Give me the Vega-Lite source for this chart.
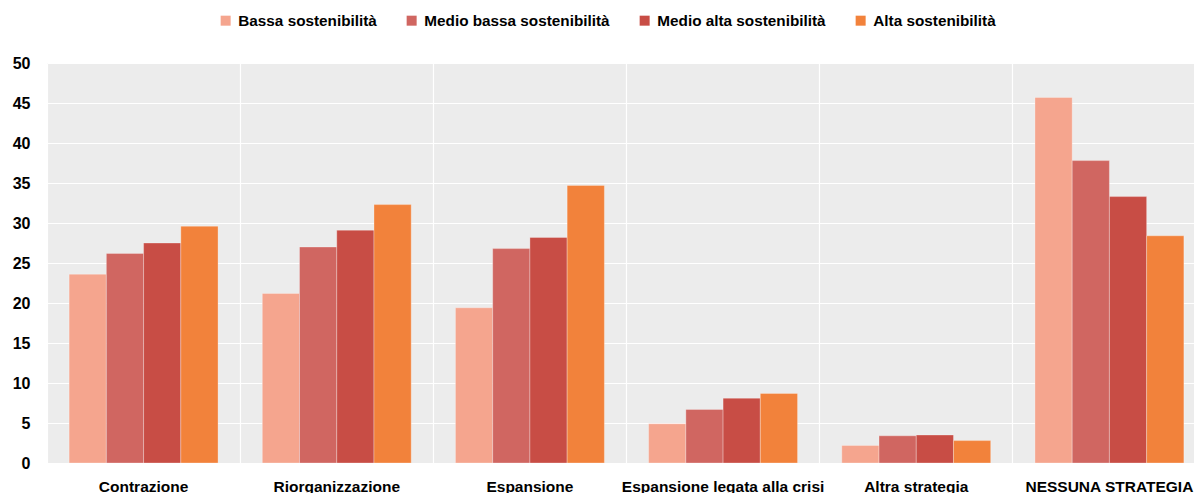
{
  "$schema": "https://vega.github.io/schema/vega-lite/v6.json",
  "autosize": "none",
  "width": 1147,
  "height": 400,
  "padding": {"left": 47, "top": 63, "right": 0, "bottom": 30},
  "background": "#ffffff",
  "config": {
    "view": {"fill": "#ececec", "stroke": null},
    "font": "Liberation Sans, Arial",
    "axis": {"domain": false, "ticks": false, "gridColor": "#ffffff", "gridWidth": 1.2, "gridOpacity": 1, "labelFont": "Liberation Sans", "labelFontWeight": "bold", "labelColor": "#000000", "title": null}
  },
  "data": {
    "values": [
      {"cat": "Contrazione", "s": "Bassa sostenibilità", "v": 23.6},
      {"cat": "Contrazione", "s": "Medio bassa sostenibilità", "v": 26.2},
      {"cat": "Contrazione", "s": "Medio alta sostenibilità", "v": 27.5},
      {"cat": "Contrazione", "s": "Alta sostenibilità", "v": 29.6},
      {"cat": "Riorganizzazione", "s": "Bassa sostenibilità", "v": 21.2},
      {"cat": "Riorganizzazione", "s": "Medio bassa sostenibilità", "v": 27.0},
      {"cat": "Riorganizzazione", "s": "Medio alta sostenibilità", "v": 29.1},
      {"cat": "Riorganizzazione", "s": "Alta sostenibilità", "v": 32.3},
      {"cat": "Espansione", "s": "Bassa sostenibilità", "v": 19.4},
      {"cat": "Espansione", "s": "Medio bassa sostenibilità", "v": 26.8},
      {"cat": "Espansione", "s": "Medio alta sostenibilità", "v": 28.2},
      {"cat": "Espansione", "s": "Alta sostenibilità", "v": 34.7},
      {"cat": "Espansione legata alla crisi", "s": "Bassa sostenibilità", "v": 4.9},
      {"cat": "Espansione legata alla crisi", "s": "Medio bassa sostenibilità", "v": 6.7},
      {"cat": "Espansione legata alla crisi", "s": "Medio alta sostenibilità", "v": 8.1},
      {"cat": "Espansione legata alla crisi", "s": "Alta sostenibilità", "v": 8.7},
      {"cat": "Altra strategia", "s": "Bassa sostenibilità", "v": 2.2},
      {"cat": "Altra strategia", "s": "Medio bassa sostenibilità", "v": 3.4},
      {"cat": "Altra strategia", "s": "Medio alta sostenibilità", "v": 3.5},
      {"cat": "Altra strategia", "s": "Alta sostenibilità", "v": 2.8},
      {"cat": "NESSUNA STRATEGIA", "s": "Bassa sostenibilità", "v": 45.7},
      {"cat": "NESSUNA STRATEGIA", "s": "Medio bassa sostenibilità", "v": 37.8},
      {"cat": "NESSUNA STRATEGIA", "s": "Medio alta sostenibilità", "v": 33.3},
      {"cat": "NESSUNA STRATEGIA", "s": "Alta sostenibilità", "v": 28.4}
    ]
  },
  "mark": {"type": "bar", "stroke": "#ffffff", "strokeWidth": 0.6, "strokeOpacity": 0.5},
  "encoding": {
    "x": {
      "field": "cat", "type": "nominal", "sort": null,
      "scale": {"paddingInner": 0, "paddingOuter": 0, "range": [0, 1159]},
      "axis": {"labelAngle": 0, "labelFontSize": 15.5, "labelPadding": 16, "labelBaseline": "top", "labelLimit": 0, "grid": true, "bandPosition": 0, "zindex": 0}
    },
    "xOffset": {
      "field": "s", "type": "nominal",
      "sort": ["Bassa sostenibilità", "Medio bassa sostenibilità", "Medio alta sostenibilità", "Alta sostenibilità"],
      "scale": {"paddingInner": 0, "paddingOuter": 0.594}
    },
    "y": {
      "field": "v", "type": "quantitative",
      "scale": {"domain": [0, 50], "nice": false},
      "axis": {"values": [0, 5, 10, 15, 20, 25, 30, 35, 40, 45, 50], "labelFontSize": 16, "labelPadding": 17, "grid": true, "zindex": 0}
    },
    "color": {
      "field": "s", "type": "nominal",
      "sort": ["Bassa sostenibilità", "Medio bassa sostenibilità", "Medio alta sostenibilità", "Alta sostenibilità"],
      "scale": {
        "domain": ["Bassa sostenibilità", "Medio bassa sostenibilità", "Medio alta sostenibilità", "Alta sostenibilità"],
        "range": ["#f5a58e", "#d06661", "#c84d45", "#f2823b"]
      },
      "legend": {
        "orient": "none", "direction": "horizontal", "legendX": 171, "legendY": -50,
        "title": null, "symbolType": "square", "symbolSize": 100, "symbolStrokeWidth": 0,
        "labelFontSize": 15.3, "labelFontWeight": "bold", "labelColor": "#000000",
        "labelFont": "Liberation Sans", "columnPadding": 27, "labelOffset": 5, "labelLimit": 300
      }
    }
  }
}
